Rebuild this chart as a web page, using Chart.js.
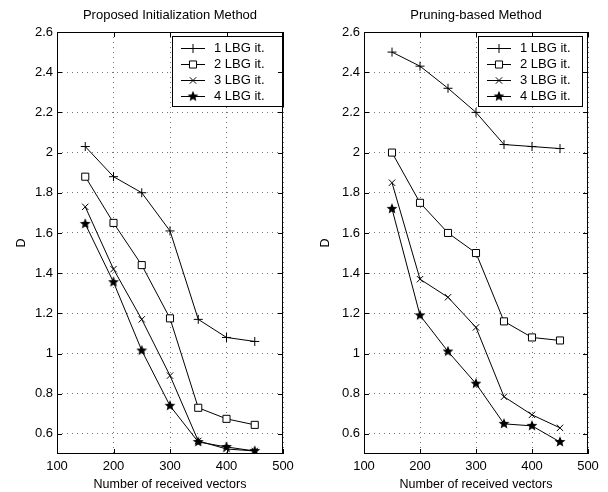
<!DOCTYPE html>
<html lang="en">
<head>
  <meta charset="UTF-8" />
  <title>LBG iterations</title>
  <script src="https://cdn.jsdelivr.net/npm/chart.js"></script>
  <style>
    body { margin: 0; background: #fff; }
    .wrap { display: flex; width: 608px; height: 492px; }
    canvas { display: block; }
  </style>
</head>
<body>
  <div class="wrap">
    <canvas id="leftChart" width="304" height="492"></canvas>
    <canvas id="rightChart" width="304" height="492"></canvas>
  </div>

  <script>
    // Data
    const vectors = [150, 200, 250, 300, 350, 400, 450];
    const seriesLabels = ['1 LBG it.', '2 LBG it.', '3 LBG it.', '4 LBG it.'];
    const xTicks = [100, 200, 300, 400, 500];
    const yTicks = [0.6, 0.8, 1.0, 1.2, 1.4, 1.6, 1.8, 2.0, 2.2, 2.4, 2.6];

    const proposed1 = [2.03, 1.88, 1.80, 1.61, 1.17, 1.08, 1.06];
    const proposed2 = [1.88, 1.65, 1.44, 1.175, 0.73, 0.675, 0.645];
    const proposed3 = [1.73, 1.42, 1.17, 0.89, 0.565, 0.525, 0.515];
    const proposed4 = [1.645, 1.355, 1.015, 0.74, 0.56, 0.535, 0.515];

    const pruning1 = [2.50, 2.43, 2.32, 2.20, 2.04, 2.03, 2.02];
    const pruning2 = [2.00, 1.75, 1.60, 1.50, 1.16, 1.08, 1.065];
    const pruning3 = [1.85, 1.37, 1.28, 1.13, 0.785, 0.695, 0.63];
    const pruning4 = [1.72, 1.19, 1.01, 0.85, 0.65, 0.64, 0.56];

    const FONT = "'Liberation Sans', Arial, sans-serif";

    // filled five-point star marker
    function makeStar(size) {
      const c = document.createElement('canvas');
      c.width = c.height = size;
      const g = c.getContext('2d');
      const cx = size / 2, cy = size / 2, R = size / 2 - 0.3, r = R * 0.45;
      g.beginPath();
      for (let i = 0; i < 10; i++) {
        const ang = -Math.PI / 2 + i * Math.PI / 5;
        const rad = i % 2 ? r : R;
        g.lineTo(cx + rad * Math.cos(ang), cy + rad * Math.sin(ang));
      }
      g.closePath();
      g.fillStyle = '#000';
      g.fill();
      return c;
    }
    const star = makeStar(12);

    const markers = [
      { pointStyle: 'cross', radius: 4.5, fill: '#000' },
      { pointStyle: 'rect', radius: 5, fill: '#fff' },
      { pointStyle: 'crossRot', radius: 4.5, fill: '#000' },
      { pointStyle: star, radius: 6, fill: '#000' }
    ];

    // box round the plot, with inward ticks on all four sides (matlab style)
    const framePlugin = {
      id: 'frame',
      afterDraw(chart) {
        const { ctx, chartArea: a, scales } = chart;
        ctx.save();
        ctx.strokeStyle = '#000';
        ctx.lineWidth = 1;
        ctx.strokeRect(Math.round(a.left) + 0.5, Math.round(a.top) + 0.5,
          Math.round(a.width) - 1, Math.round(a.height) - 1);
        const len = 5;
        ctx.beginPath();
        scales.x.ticks.forEach(t => {
          const px = Math.round(scales.x.getPixelForValue(t.value)) + 0.5;
          ctx.moveTo(px, a.bottom); ctx.lineTo(px, a.bottom - len);
          ctx.moveTo(px, a.top); ctx.lineTo(px, a.top + len);
        });
        scales.y.ticks.forEach(t => {
          const py = Math.round(scales.y.getPixelForValue(t.value)) + 0.5;
          ctx.moveTo(a.left, py); ctx.lineTo(a.left + len, py);
          ctx.moveTo(a.right, py); ctx.lineTo(a.right - len, py);
        });
        ctx.stroke();
        ctx.restore();
      }
    };

    // boxed legend in the top right corner of the plot
    const boxLegend = {
      id: 'boxLegend',
      afterDatasetsDraw(chart, args, opts) {
        const { ctx, chartArea: a } = chart;
        const w = opts.width, h = 70;
        const left = a.right - opts.inset - w, top = a.top + 4;
        ctx.save();
        ctx.fillStyle = '#fff';
        ctx.fillRect(left, top, w, h);
        ctx.strokeStyle = '#000';
        ctx.lineWidth = 1;
        ctx.strokeRect(Math.round(left) + 0.5, Math.round(top) + 0.5, w, h);
        ctx.font = '13px ' + FONT;
        ctx.textBaseline = 'middle';
        chart.data.datasets.forEach((ds, i) => {
          const y = top + 12 + i * 16;
          const x0 = left + 9;
          ctx.strokeStyle = '#000';
          ctx.beginPath();
          ctx.moveTo(x0, Math.round(y) + 0.5);
          ctx.lineTo(x0 + 24, Math.round(y) + 0.5);
          ctx.stroke();
          ctx.fillStyle = markers[i].fill;
          Chart.helpers.drawPoint(ctx, {
            pointStyle: ds.pointStyle, radius: ds.pointRadius,
            rotation: 0, borderWidth: 1
          }, x0 + 12, Math.round(y) + 0.5);
          ctx.fillStyle = '#000';
          ctx.fillText(ds.label, x0 + 33, y);
        });
        ctx.restore();
      }
    };

    function makeChart(id, title, series, padRight, yWidth, legendWidth, legendInset) {
      const datasets = series.map((vals, i) => ({
        label: seriesLabels[i],
        data: vectors.map((v, j) => ({ x: v, y: vals[j] })),
        borderColor: '#000',
        borderWidth: 1,
        backgroundColor: markers[i].fill,
        pointStyle: markers[i].pointStyle,
        pointRadius: markers[i].radius,
        pointBorderWidth: 1,
        pointBorderColor: '#000',
        pointBackgroundColor: markers[i].fill,
        tension: 0
      }));

      return new Chart(document.getElementById(id), {
        type: 'line',
        data: { datasets },
        plugins: [framePlugin, boxLegend],
        options: {
          responsive: false,
          animation: false,
          layout: { padding: { left: 0, right: padRight, top: 0, bottom: 0 } },
          plugins: {
            legend: { display: false },
            tooltip: { enabled: false },
            title: {
              display: true,
              fullSize: false,
              text: title,
              color: '#000',
              font: { family: FONT, size: 13, weight: 'normal' },
              padding: { top: 8, bottom: 8.4 }
            },
            boxLegend: { width: legendWidth, inset: legendInset }
          },
          scales: {
            x: {
              type: 'linear',
              min: 100,
              max: 500,
              afterBuildTicks: s => { s.ticks = xTicks.map(v => ({ value: v })); },
              afterFit: s => { s.height = 38; },
              grid: { color: '#777', drawTicks: false },
              border: { display: false, dash: [1, 4] },
              ticks: {
                color: '#000',
                padding: 5,
                maxRotation: 0,
                font: { family: FONT, size: 13 }
              },
              title: {
                display: true,
                text: 'Number of received vectors',
                color: '#000',
                font: { family: FONT, size: 12.5 },
                padding: 0
              }
            },
            y: {
              type: 'linear',
              min: 0.5,
              max: 2.6,
              afterBuildTicks: s => { s.ticks = yTicks.map(v => ({ value: v })); },
              afterFit: s => { s.width = yWidth; },
              grid: { color: '#777', drawTicks: false },
              border: { display: false, dash: [1, 4] },
              ticks: {
                color: '#000',
                padding: 4,
                font: { family: FONT, size: 13 },
                callback: v => String(+v.toFixed(1))
              },
              title: {
                display: true,
                text: 'D',
                color: '#000',
                font: { family: FONT, size: 12.5 },
                padding: { top: 14, bottom: 0 }
              }
            }
          }
        }
      });
    }

    makeChart('leftChart', 'Proposed Initialization Method',
      [proposed1, proposed2, proposed3, proposed4], 21, 57, 111, 0);
    makeChart('rightChart', 'Pruning-based Method',
      [pruning1, pruning2, pruning3, pruning4], 20, 60, 104, 6);
  </script>
</body>
</html>
